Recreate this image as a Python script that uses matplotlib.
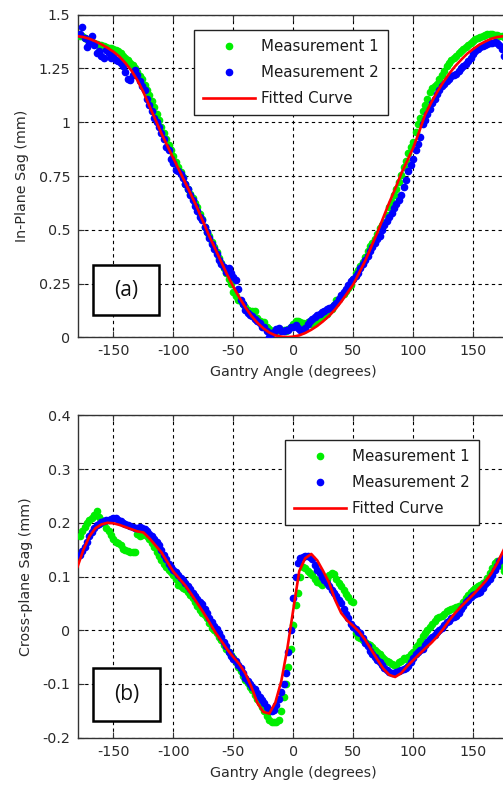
import matplotlib
matplotlib.use("Agg")
import matplotlib.pyplot as plt
from matplotlib.patches import Rectangle

plt.rcParams["font.family"] = "DejaVu Sans"
plt.rcParams["axes.unicode_minus"] = False

GREEN = "#00ee00"
BLUE = "#0000ff"
RED = "#ff0000"
INK = "#2a2a2a"

# gantry angles of the measurement points (degrees)
ANGLES = [-178, -176, -174, -172, -170, -168, -166, -164, -162, -160,
          -158, -156, -154, -152, -150, -148, -146, -144, -142, -140,
          -138, -136, -134, -132, -130, -128, -126, -124, -122, -120,
          -118, -116, -114, -112, -110, -108, -106, -104, -102, -100,
          -98, -96, -94, -92, -90, -88, -86, -84, -82, -80,
          -78, -76, -74, -72, -70, -68, -66, -64, -62, -60,
          -58, -56, -54, -52, -50, -48, -46, -44, -42, -40,
          -38, -36, -34, -32, -30, -28, -26, -24, -22, -20,
          -18, -16, -14, -12, -10, -8, -6, -4, -2, 0,
          2, 4, 6, 8, 10, 12, 14, 16, 18, 20,
          22, 24, 26, 28, 30, 32, 34, 36, 38, 40,
          42, 44, 46, 48, 50, 52, 54, 56, 58, 60,
          62, 64, 66, 68, 70, 72, 74, 76, 78, 80,
          82, 84, 86, 88, 90, 92, 94, 96, 98, 100,
          102, 104, 106, 108, 110, 112, 114, 116, 118, 120,
          122, 124, 126, 128, 130, 132, 134, 136, 138, 140,
          142, 144, 146, 148, 150, 152, 154, 156, 158, 160,
          162, 164, 166, 168, 170, 172, 174, 176, 178]

# angles of the fitted curves (degrees)
FIT_ANGLES = [-180, -175, -170, -165, -160, -155, -150, -145, -140, -135, -130,
              -125, -120, -115, -110, -105, -100, -95, -90, -85, -80, -75, -70,
              -65, -60, -55, -50, -45, -40, -35, -30, -25, -20, -15, -10, -5, 0,
              5, 10, 15, 20, 25, 30, 35, 40, 45, 50, 55, 60, 65, 70, 75, 80, 85,
              90, 95, 100, 105, 110, 115, 120, 125, 130, 135, 140, 145, 150, 155,
              160, 165, 170, 175, 180]

# (a) in-plane sag, mm
INPLANE_M1 = [1.40, 1.40, 1.39, 1.385, 1.38, 1.375, 1.37, 1.365, 1.36, 1.36,
              1.355, 1.35, 1.345, 1.345, 1.34, 1.335, 1.33, 1.32, 1.31, 1.30,
              1.29, 1.275, 1.265, 1.25, 1.235, 1.215, 1.20, 1.175, 1.15, 1.125,
              1.10, 1.07, 1.04, 1.01, 0.98, 0.95, 0.92, 0.895, 0.87, 0.845,
              0.815, 0.79, 0.77, 0.745, 0.715, 0.69, 0.665, 0.65, 0.625, 0.605,
              0.575, 0.55, 0.515, 0.49, 0.47, 0.445, 0.42, 0.395, 0.37, 0.345,
              0.32, 0.30, 0.27, 0.25, 0.21, 0.19, 0.175, 0.17, 0.155, 0.14,
              0.125, 0.115, 0.12, 0.12, 0.09, 0.075, 0.07, 0.072, 0.05, 0.04,
              0.03, 0.03, 0.03, 0.035, 0.035, 0.034, 0.03, 0.04, 0.05, 0.06,
              0.075, 0.075, 0.07, 0.065, 0.06, 0.07, 0.06, 0.06, 0.065, 0.075,
              0.085, 0.095, 0.10, 0.11, 0.12, 0.13, 0.15, 0.175, 0.18, 0.19,
              0.20, 0.215, 0.23, 0.245, 0.27, 0.30, 0.315, 0.33, 0.35, 0.375,
              0.40, 0.425, 0.44, 0.455, 0.48, 0.51, 0.52, 0.53, 0.57, 0.605,
              0.63, 0.66, 0.69, 0.72, 0.755, 0.79, 0.82, 0.855, 0.885, 0.91,
              0.955, 0.99, 1.02, 1.05, 1.08, 1.11, 1.14, 1.16, 1.17, 1.18,
              1.20, 1.22, 1.24, 1.26, 1.275, 1.29, 1.30, 1.31, 1.32, 1.33,
              1.34, 1.35, 1.36, 1.37, 1.38, 1.385, 1.39, 1.395, 1.40, 1.405,
              1.41, 1.41, 1.41, 1.405, 1.405, 1.40, 1.40, 1.395, 1.39]
INPLANE_M2 = [1.41, 1.445, 1.39, 1.35, 1.37, 1.40, 1.36, 1.32, 1.33, 1.31,
              1.30, 1.335, 1.32, 1.30, 1.31, 1.29, 1.285, 1.275, 1.26, 1.235,
              1.20, 1.195, 1.22, 1.245, 1.22, 1.19, 1.17, 1.15, 1.11, 1.08,
              1.05, 1.02, 1.00, 0.98, 0.95, 0.92, 0.885, 0.87, 0.83, 0.81,
              0.78, 0.775, 0.76, 0.74, 0.715, 0.69, 0.66, 0.64, 0.61, 0.585,
              0.56, 0.545, 0.515, 0.49, 0.46, 0.435, 0.41, 0.385, 0.36, 0.34,
              0.325, 0.305, 0.32, 0.30, 0.28, 0.265, 0.225, 0.175, 0.155, 0.127,
              0.115, 0.105, 0.10, 0.085, 0.075, 0.065, 0.05, 0.05, 0.03, 0.0,
              0.02, 0.026, 0.04, 0.042, 0.03, 0.030, 0.034, 0.034, 0.05, 0.049,
              0.055, 0.045, 0.035, 0.034, 0.045, 0.06, 0.075, 0.085, 0.095, 0.103,
              0.11, 0.119, 0.12, 0.13, 0.135, 0.14, 0.15, 0.16, 0.18, 0.195,
              0.21, 0.225, 0.245, 0.26, 0.27, 0.285, 0.30, 0.32, 0.34, 0.36,
              0.38, 0.40, 0.42, 0.44, 0.455, 0.47, 0.50, 0.52, 0.54, 0.56,
              0.58, 0.60, 0.62, 0.64, 0.66, 0.70, 0.73, 0.775, 0.80, 0.83,
              0.87, 0.90, 0.93, 0.99, 1.01, 1.04, 1.06, 1.09, 1.11, 1.13,
              1.15, 1.17, 1.18, 1.19, 1.20, 1.215, 1.22, 1.225, 1.24, 1.25,
              1.26, 1.27, 1.285, 1.30, 1.315, 1.33, 1.34, 1.35, 1.355, 1.36,
              1.365, 1.37, 1.37, 1.375, 1.37, 1.36, 1.34, 1.31, 1.36]
INPLANE_FIT = [1.400, 1.396, 1.388, 1.376, 1.362, 1.346, 1.328, 1.305, 1.275, 1.240, 1.195,
               1.140, 1.075, 1.012, 0.948, 0.890, 0.832, 0.775, 0.718, 0.660, 0.600, 0.535,
               0.470, 0.410, 0.350, 0.290, 0.235, 0.185, 0.140, 0.100, 0.068, 0.042, 0.022,
               0.009, 0.003, 0.001, 0.003, 0.009, 0.020, 0.035, 0.053, 0.075, 0.100, 0.130,
               0.165, 0.205, 0.245, 0.300, 0.355, 0.420, 0.485, 0.555, 0.625, 0.690, 0.760,
               0.820, 0.880, 0.955, 1.035, 1.090, 1.140, 1.185, 1.225, 1.260, 1.290, 1.318,
               1.340, 1.360, 1.375, 1.388, 1.396, 1.400, 1.400]

# (b) cross-plane sag, mm
CROSS_M1 = [0.175, 0.185, 0.193, 0.20, 0.205, 0.208, 0.215, 0.222, 0.21, 0.205,
            0.20, 0.19, 0.185, 0.177, 0.17, 0.165, 0.162, 0.158, 0.152, 0.15,
            0.147, 0.146, 0.145, 0.145, 0.18, 0.176, 0.178, 0.18, 0.176, 0.17,
            0.162, 0.155, 0.146, 0.138, 0.13, 0.124, 0.118, 0.113, 0.108, 0.103,
            0.095, 0.085, 0.082, 0.079, 0.076, 0.072, 0.066, 0.06, 0.052, 0.045,
            0.038, 0.032, 0.028, 0.022, 0.013, 0.005, 0.0, -0.006, -0.012, -0.018,
            -0.027, -0.035, -0.04, -0.046, -0.052, -0.06, -0.068, -0.075, -0.085, -0.093,
            -0.098, -0.105, -0.112, -0.12, -0.128, -0.135, -0.142, -0.15, -0.16, -0.167,
            -0.17, -0.17, -0.17, -0.167, -0.15, -0.125, -0.1, -0.068, -0.034, 0.01,
            0.047, 0.07, 0.10, 0.118, 0.115, 0.11, 0.106, 0.102, 0.095, 0.09,
            0.087, 0.084, 0.088, 0.095, 0.102, 0.107, 0.105, 0.095, 0.088, 0.082,
            0.075, 0.068, 0.062, 0.055, 0.053, -0.005, -0.012, -0.015, -0.018, -0.022,
            -0.025, -0.028, -0.031, -0.036, -0.04, -0.045, -0.05, -0.053, -0.057, -0.06,
            -0.062, -0.064, -0.065, -0.06, -0.058, -0.052, -0.054, -0.05, -0.045, -0.04,
            -0.032, -0.028, -0.02, -0.01, -0.005, 0.0, 0.006, 0.012, 0.018, 0.022,
            0.025, 0.026, 0.03, 0.036, 0.038, 0.04, 0.042, 0.044, 0.045, 0.046,
            0.052, 0.06, 0.066, 0.072, 0.075, 0.078, 0.082, 0.085, 0.087, 0.09,
            0.098, 0.106, 0.115, 0.126, 0.128, 0.128, 0.12, 0.11, 0.115]
CROSS_M2 = [0.14, 0.148, 0.155, 0.165, 0.175, 0.183, 0.19, 0.195, 0.198, 0.201,
            0.203, 0.205, 0.206, 0.207, 0.208, 0.208, 0.206, 0.204, 0.2, 0.198,
            0.196, 0.194, 0.192, 0.19, 0.19, 0.192, 0.19, 0.188, 0.184, 0.18,
            0.175, 0.17, 0.164, 0.158, 0.15, 0.14, 0.132, 0.124, 0.118, 0.113,
            0.108, 0.103, 0.098, 0.093, 0.088, 0.082, 0.076, 0.069, 0.064, 0.058,
            0.052, 0.048, 0.04, 0.032, 0.023, 0.015, 0.008, 0.002, -0.005, -0.012,
            -0.022, -0.03, -0.04, -0.048, -0.053, -0.058, -0.064, -0.07, -0.08, -0.088,
            -0.094, -0.1, -0.105, -0.11, -0.117, -0.124, -0.13, -0.135, -0.142, -0.148,
            -0.15, -0.148, -0.14, -0.128, -0.115, -0.1, -0.08, -0.04, 0.0, 0.06,
            0.1, 0.125, 0.135, 0.137, 0.138, 0.138, 0.136, 0.132, 0.122, 0.112,
            0.106, 0.1, 0.094, 0.088, 0.082, 0.075, 0.07, 0.063, 0.056, 0.05,
            0.04, 0.03, 0.022, 0.012, 0.006, 0.002, -0.004, -0.006, -0.015, -0.024,
            -0.03, -0.038, -0.044, -0.049, -0.055, -0.06, -0.065, -0.07, -0.074, -0.078,
            -0.08, -0.08, -0.078, -0.076, -0.074, -0.072, -0.07, -0.066, -0.06, -0.052,
            -0.045, -0.04, -0.036, -0.034, -0.028, -0.022, -0.016, -0.012, -0.008, -0.004,
            0.0, 0.005, 0.01, 0.015, 0.018, 0.022, 0.025, 0.027, 0.033, 0.04,
            0.046, 0.052, 0.057, 0.062, 0.065, 0.068, 0.07, 0.072, 0.079, 0.086,
            0.09, 0.095, 0.103, 0.112, 0.12, 0.128, 0.134, 0.14, 0.145]
CROSS_FIT = [0.118, 0.150, 0.175, 0.190, 0.197, 0.200, 0.199, 0.196, 0.192, 0.188, 0.184,
             0.182, 0.171, 0.158, 0.145, 0.127, 0.109, 0.096, 0.083, 0.067, 0.050, 0.033,
             0.015, -0.004, -0.020, -0.036, -0.050, -0.063, -0.080, -0.105, -0.135, -0.152,
             -0.155, -0.135, -0.095, -0.035, 0.038, 0.110, 0.134, 0.142, 0.130, 0.110, 0.088,
             0.056, 0.032, 0.018, 0.008, -0.003, -0.018, -0.036, -0.054, -0.071, -0.083,
             -0.087, -0.080, -0.067, -0.056, -0.045, -0.034, -0.024, -0.012, 0.002, 0.018,
             0.032, 0.044, 0.055, 0.066, 0.078, 0.090, 0.105, 0.124, 0.147, 0.170]

X_TICKS = [-150, -100, -50, 0, 50, 100, 150]
INPLANE_TICKS = [0, 0.25, 0.5, 0.75, 1, 1.25, 1.5]
INPLANE_TICKLABELS = ["0", "0.25", "0.5", "0.75", "1", "1.25", "1.5"]
CROSS_TICKS = [-0.2, -0.1, 0, 0.1, 0.2, 0.3, 0.4]
CROSS_TICKLABELS = ["-0.2", "-0.1", "0", "0.1", "0.2", "0.3", "0.4"]

W, H = 503, 789
fig = plt.figure(figsize=(W / 100, H / 100), dpi=100)


def px_axes(left, top, right, bottom):
    return fig.add_axes([left / W, 1 - bottom / H, (right - left) / W, (bottom - top) / H])


def panel(ax, m1, m2, fit, yticks, yticklabels, ylim, ylabel, tag, tagbox, legend_anchor):
    ax.plot(ANGLES, m1, ls="none", marker="o", ms=4.5, mfc=GREEN, mec=GREEN,
            label="Measurement 1", zorder=3)
    ax.plot(ANGLES, m2, ls="none", marker="o", ms=4.5, mfc=BLUE, mec=BLUE,
            label="Measurement 2", zorder=4)
    ax.plot(FIT_ANGLES, fit, color=RED, lw=1.9, label="Fitted Curve", zorder=5)

    ax.set_xlim(-180, 180)
    ax.set_ylim(*ylim)
    ax.set_xticks(X_TICKS)
    ax.set_yticks(yticks)
    ax.set_yticklabels(yticklabels)
    ax.grid(True, color="black", lw=0.8, ls=(0, (3, 3)))
    ax.tick_params(direction="in", length=4, top=True, right=True,
                   labelsize=10.3, labelcolor=INK, color="#333333", pad=5)
    for s in ax.spines.values():
        s.set_color("#333333")
        s.set_linewidth(1.0)
    ax.set_xlabel("Gantry Angle (degrees)", fontsize=10.3, color=INK, labelpad=5)
    ax.set_ylabel(ylabel, fontsize=10.3, color=INK, labelpad=7)

    x0, y0, x1, y1 = tagbox
    ax.add_patch(Rectangle((x0, y0), x1 - x0, y1 - y0, transform=ax.transAxes,
                           fill=True, fc="white", ec="black", lw=1.8, zorder=6))
    ax.text((x0 + x1) / 2, (y0 + y1) / 2, tag, transform=ax.transAxes, ha="center",
            va="center", fontsize=15, family="Open Sans", color="#111111", zorder=7)

    leg = ax.legend(loc="upper left", bbox_to_anchor=legend_anchor,
                    bbox_transform=fig.transFigure, numpoints=1, fontsize=10.8,
                    handlelength=3.45, handletextpad=0.4, labelspacing=0.74,
                    borderpad=0.6, borderaxespad=0, fancybox=False, framealpha=1,
                    edgecolor="#222222")
    leg.get_frame().set_linewidth(1.0)
    for t in leg.get_texts():
        t.set_color("#1a1a1a")
    leg.set_zorder(8)


ax1 = px_axes(77.5, 14.7, 509, 337.3)
panel(ax1, INPLANE_M1, INPLANE_M2, INPLANE_FIT, INPLANE_TICKS, INPLANE_TICKLABELS,
      (0, 1.5), "In-Plane Sag (mm)", "(a)", (0.036, 0.069, 0.190, 0.224),
      (194 / W, 1 - 30 / H))

ax2 = px_axes(77.5, 415.3, 509, 737.7)
panel(ax2, CROSS_M1, CROSS_M2, CROSS_FIT, CROSS_TICKS, CROSS_TICKLABELS,
      (-0.2, 0.4), "Cross-plane Sag (mm)", "(b)", (0.036, 0.052, 0.191, 0.216),
      (285 / W, 1 - 440 / H))

fig.savefig("out.png", dpi=100)
